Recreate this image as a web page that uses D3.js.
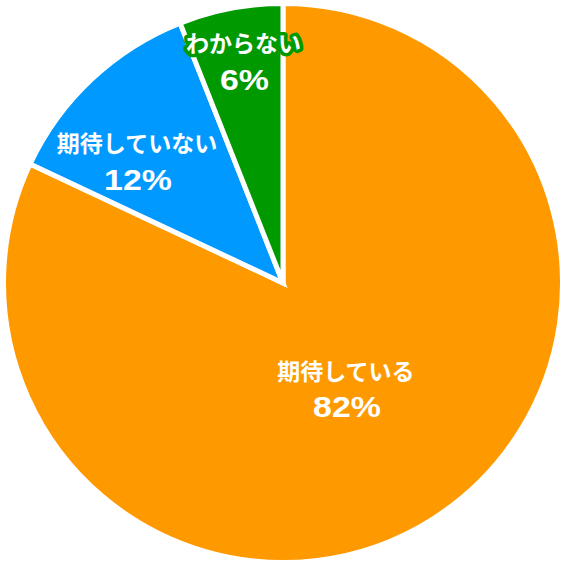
<!DOCTYPE html>
<html><head><meta charset="utf-8">
<script src="https://cdn.jsdelivr.net/npm/d3@7"></script>
<style>html,body{margin:0;padding:0;background:#fff;}</style>
</head><body>
<script>
const categories = ["期待している", "期待していない", "わからない"];
const values = [82, 12, 6];
const percentLabels = ["82%", "12%", "6%"];
const colors = ["#FF9900", "#0099FF", "#009900"];
// label placement (layout config): radius as fraction of R, angle shift in degrees from slice middle
const labelRadiusFactor = [0.44, 0.681, 0.807];
const labelAngleShift = [1.6, -6.9, 0.7];

const W = 566, H = 566, cx = 283, cy = 283, R = 279.5;
const svg = d3.select("body").append("svg").attr("width", W).attr("height", H);
const g = svg.append("g").attr("transform", `translate(${cx},${cy})`);

const pie = d3.pie().sort(null).value(d => d)(values);
const arc = d3.arc().innerRadius(0).outerRadius(R);

g.selectAll("path").data(pie).join("path")
  .attr("d", arc)
  .attr("fill", (d,i) => colors[i])
  .attr("stroke", "#fff")
  .attr("stroke-width", 5)
  .attr("stroke-linejoin", "miter");

const jpFont = "'Noto Sans CJK JP',sans-serif";
const numFont = "'Liberation Sans',Arial,sans-serif";
pie.forEach((d,i) => {
  const a = (d.startAngle + d.endAngle) / 2 + labelAngleShift[i] * Math.PI / 180;
  const r = R * labelRadiusFactor[i];
  const x = Math.sin(a) * r, y = -Math.cos(a) * r;
  const t = g.append("g").attr("transform", `translate(${x},${y})`);
  t.append("text").text(categories[i])
    .attr("y", -18.5).attr("text-anchor", "middle").attr("dominant-baseline", "central")
    .attr("font-family", jpFont).attr("font-weight", "bold").attr("font-size", 23)
    .attr("fill", "#fff").attr("stroke", colors[i]).attr("stroke-width", 7)
    .attr("stroke-linejoin", "round").attr("paint-order", "stroke");
  t.append("text").text(percentLabels[i])
    .attr("transform", "translate(1,18.5) scale(1.13,1)")
    .attr("text-anchor", "middle").attr("dominant-baseline", "central")
    .attr("font-family", numFont).attr("font-weight", "bold").attr("font-size", 30)
    .attr("fill", "#fff");
});
</script>
</body></html>
